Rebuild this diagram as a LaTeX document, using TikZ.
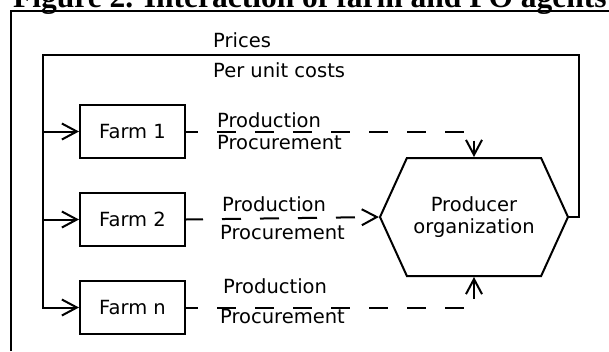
\documentclass[tikz,border=0pt]{standalone}
\usepackage{fontspec}
\setmainfont{Liberation Serif}
\newfontfamily\dejavu{DejaVu Sans}
\usetikzlibrary{shapes.symbols,arrows.meta,positioning}

\begin{document}
\begin{tikzpicture}[x=1pt, y=-1pt, node distance=33pt,
    farm/.style={rectangle, draw, line width=2pt, minimum width=105pt, minimum height=53pt, font=\dejavu\fontsize{19.5}{22}\selectfont},
    org/.style={signal, signal to=west and east, draw, line width=2pt, minimum width=188pt, minimum height=118pt, signal pointer angle=131, align=center, font=\dejavu\fontsize{19.5}{22}\selectfont},
    lbl/.style={anchor=base west, inner sep=0pt, font=\dejavu\fontsize{19.5}{22}\selectfont},
    feedback/.style={line width=2pt, -{Straight Barb[length=15pt,width=16pt]}},
    supply/.style={feedback, dash pattern=on 19pt off 19pt, dash phase=7pt}]

    \useasboundingbox (0,0) rectangle (609,351);
    \draw[line width=2.5pt] (11,351) -- (11,11) -- (609,11);
    \node[anchor=base west, inner sep=0pt, font=\bfseries\fontsize{31.5}{36}\selectfont] (title) at (13,7) {Figure 2. Interaction of farm and PO agents};

    \node[farm] (farm1) at (132.5,131.5) {Farm 1};
    \node[farm, below=of farm1] (farm2) {Farm 2};
    \node[farm, below=of farm2] (farmn) {Farm n};
    \node[org] (po) at (474,217) {Producer\\organization};

    % prices and costs go back to the farms
    \coordinate (topR) at (579,55);
    \coordinate (topL) at (43,55);
    \node[lbl] (prices) at (213,47) {Prices};
    \node[lbl] (costs) at (213,77) {Per unit costs};
    \draw[feedback] (po.east) -| (topR) -- (topL) |- (farmn);
    \draw[feedback] (topL |- farm1) -- (farm1);
    \draw[feedback] (topL |- farm2) -- (farm2);

    % production and procurement go to the PO
    \node[lbl] (prod1) at (217,127) {Production};
    \node[lbl] (proc1) at (217,149) {Procurement};
    \node[lbl] (prod2) at (222,211) {Production};
    \node[lbl] (proc2) at (220,239) {Procurement};
    \node[lbl] (prodn) at (223,293) {Production};
    \node[lbl] (procn) at (220,323) {Procurement};
    \draw[supply] (farm1) -| (po.north);
    \draw[supply, dash phase=2pt] (farm2.east) -- (po.west);
    \draw[supply] (farmn) -| (po.south);

\end{tikzpicture}
\end{document}
